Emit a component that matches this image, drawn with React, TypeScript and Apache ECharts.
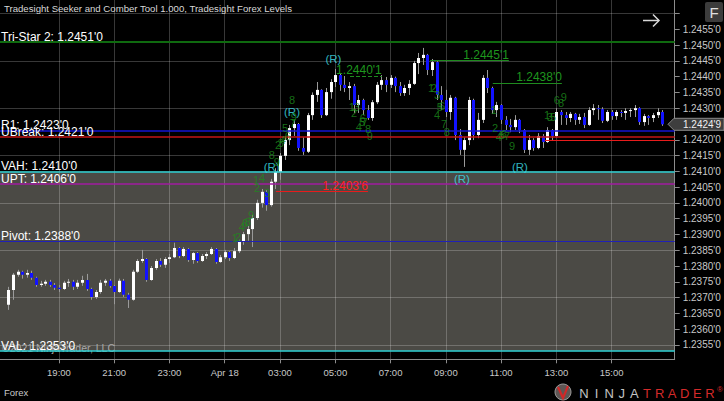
import React, { useEffect, useRef } from "react";
import * as echarts from "echarts";

// ---------- data ----------
const firstOpen = 1.23677;
const firstBarTime = "04-17 17:10";
const barMinutes = 10;

const closes = [
  1.23724, 1.23772, 1.23782, 1.23772, 1.23778, 1.23763, 1.2374, 1.23744, 1.2375, 1.2374,
  1.23731, 1.23727, 1.23747, 1.2375, 1.23734, 1.23747, 1.23756, 1.23727, 1.23702, 1.23718,
  1.23747, 1.23753, 1.23737, 1.23718, 1.23753, 1.23709, 1.23693, 1.23782, 1.23816, 1.23822,
  1.23756, 1.23794, 1.23816, 1.23804, 1.23822, 1.23828, 1.23857, 1.23832, 1.23854, 1.23819,
  1.23841, 1.23816, 1.23832, 1.23838, 1.23854, 1.23813, 1.23828, 1.23844, 1.23825, 1.23847,
  1.23876, 1.23901, 1.23917, 1.23952, 1.24, 1.24035, 1.23993, 1.24067, 1.24098, 1.24149,
  1.24199, 1.24237, 1.2425, 1.24174, 1.24162, 1.24278, 1.24342, 1.24358, 1.24278, 1.24351,
  1.24383, 1.24405, 1.24374, 1.24364, 1.2437, 1.2431, 1.24326, 1.24294, 1.24269, 1.24319,
  1.24374, 1.24389, 1.24374, 1.24396, 1.2437, 1.24348, 1.24364, 1.24377, 1.24443, 1.24459,
  1.24469, 1.24421, 1.24446, 1.24342, 1.24326, 1.24288, 1.24333, 1.24215, 1.24168, 1.24199,
  1.24326, 1.24215, 1.24263, 1.24396, 1.24364, 1.24294, 1.2431, 1.24263, 1.24247, 1.2424,
  1.24263, 1.24231, 1.24168, 1.24199, 1.24174, 1.24212, 1.24193, 1.24231, 1.24212, 1.24288,
  1.24278, 1.24269, 1.24282, 1.24263, 1.24272, 1.24247, 1.24294, 1.243, 1.24297, 1.2426,
  1.24288, 1.24275, 1.24288, 1.24285, 1.24291, 1.24294, 1.243, 1.24256, 1.24275, 1.24269,
  1.24278, 1.24288, 1.24249,
];
const highs = [
  1.23734, 1.23778, 1.23788, 1.23785, 1.23788, 1.23785, 1.23766, 1.23753, 1.23756, 1.23756,
  1.23746, 1.2374, 1.23753, 1.23759, 1.23756, 1.23756, 1.23769, 1.23775, 1.23731, 1.23724,
  1.23756, 1.23759, 1.23759, 1.2374, 1.2376, 1.23759, 1.23715, 1.23788, 1.23822, 1.23851,
  1.23825, 1.238, 1.23822, 1.23825, 1.23828, 1.23838, 1.23874, 1.2386, 1.2386, 1.23857,
  1.23844, 1.23844, 1.23838, 1.23844, 1.2386, 1.23857, 1.23835, 1.23851, 1.23847, 1.23857,
  1.23883, 1.23908, 1.23927, 1.23962, 1.2401, 1.24044, 1.2404, 1.24076, 1.2411, 1.24158,
  1.24208, 1.24247, 1.24263, 1.24253, 1.24208, 1.24285, 1.2435, 1.24383, 1.2436, 1.24364,
  1.24392, 1.24424, 1.24411, 1.24402, 1.24383, 1.24377, 1.24342, 1.2433, 1.2431, 1.24326,
  1.24383, 1.24405, 1.24399, 1.24405, 1.244, 1.24383, 1.24374, 1.24389, 1.2445, 1.24475,
  1.24491, 1.24472, 1.24456, 1.24449, 1.2437, 1.24358, 1.24342, 1.24336, 1.24234, 1.24208,
  1.24336, 1.2433, 1.24285, 1.24405, 1.24421, 1.24368, 1.2432, 1.24313, 1.24275, 1.24266,
  1.24278, 1.24266, 1.24234, 1.24215, 1.24205, 1.24221, 1.24218, 1.2424, 1.24234, 1.243,
  1.24294, 1.24288, 1.24288, 1.24285, 1.24282, 1.24285, 1.24303, 1.24313, 1.2431, 1.24303,
  1.24294, 1.24294, 1.24294, 1.24294, 1.243, 1.243, 1.2431, 1.24303, 1.24282, 1.24278,
  1.24285, 1.243, 1.24294,
];
const lows = [
  1.23661, 1.23693, 1.23766, 1.2376, 1.23763, 1.23756, 1.23734, 1.23734, 1.23737, 1.23734,
  1.23724, 1.23718, 1.23724, 1.23734, 1.23724, 1.23727, 1.23737, 1.23721, 1.23693, 1.23696,
  1.23712, 1.23737, 1.23731, 1.23679, 1.23715, 1.23702, 1.23667, 1.2369, 1.23778, 1.2381,
  1.2375, 1.23753, 1.23788, 1.23797, 1.23794, 1.2381, 1.23825, 1.23825, 1.23828, 1.23813,
  1.23807, 1.2381, 1.23813, 1.23822, 1.23835, 1.23807, 1.2381, 1.23822, 1.23816, 1.23822,
  1.23841, 1.23867, 1.2388, 1.2386, 1.23946, 1.23985, 1.23975, 1.23988, 1.24044, 1.24073,
  1.24136, 1.24183, 1.24212, 1.24165, 1.24152, 1.24158, 1.24263, 1.2432, 1.24269, 1.24275,
  1.2433, 1.24367, 1.24355, 1.24351, 1.24326, 1.24285, 1.24285, 1.24278, 1.24263, 1.2426,
  1.24313, 1.24358, 1.24351, 1.24364, 1.24351, 1.24339, 1.24339, 1.24342, 1.24374, 1.24408,
  1.24437, 1.24405, 1.24402, 1.24326, 1.24294, 1.24272, 1.24263, 1.24199, 1.24152, 1.24114,
  1.24183, 1.24199, 1.24205, 1.24253, 1.24348, 1.24282, 1.24272, 1.2425, 1.24231, 1.24224,
  1.24231, 1.24221, 1.24158, 1.24152, 1.24165, 1.2417, 1.24174, 1.2419, 1.24196, 1.24208,
  1.24247, 1.24247, 1.24256, 1.24247, 1.2425, 1.24237, 1.24244, 1.24278, 1.24263, 1.24253,
  1.24256, 1.24263, 1.24263, 1.24272, 1.24263, 1.24272, 1.24272, 1.24247, 1.24244, 1.24247,
  1.24256, 1.24269, 1.24244,
];

// axis ranges / ticks
const axisStartTime = "04-17 16:52";
const axisEndTime = "04-18 17:17";
const priceMin = 1.235044;
const priceMax = 1.246428;
const timeLabels = [
  "04-17 19:00", "04-17 21:00", "04-17 23:00", "04-18 01:00", "04-18 03:00", "04-18 05:00",
  "04-18 07:00", "04-18 09:00", "04-18 11:00", "04-18 13:00", "04-18 15:00",
];
const priceLabels = [
  1.2355, 1.236, 1.2365, 1.237, 1.2375, 1.238, 1.2385, 1.239, 1.2395, 1.24, 1.2405, 1.241,
  1.2415, 1.242, 1.243, 1.2435, 1.244, 1.2445, 1.245, 1.2455,
];
const priceTicks = [
  1.2355, 1.236, 1.2365, 1.237, 1.2375, 1.238, 1.2385, 1.239, 1.2395, 1.24, 1.2405, 1.241,
  1.2415, 1.242, 1.2425, 1.243, 1.2435, 1.244, 1.2445, 1.245, 1.2455, 1.246,
];
const gridPrices = [1.2355, 1.237, 1.2385, 1.24, 1.2415, 1.243, 1.2445, 1.246];

// levels
const levelNames = ["Tri-Star 2", "R1", "UBreak", "VAH", "UPT", "Pivot", "VAL"];
const levelValues = [1.2451, 1.2423, 1.2421, 1.241, 1.2406, 1.2388, 1.2353];
const levelColors = ["#0f6a0f", "#1414d2", "#c41414", "#2ccfd2", "#a01ca0", "#2020b8", "#2ccfd2"];
const levelWidths = [2, 1.5, 1.5, 1.5, 1.5, 1.2, 1.5];

// swing segments
const segValues = [1.24036, 1.24401, 1.24451, 1.2438, 1.242];
const segStarts = ["04-18 02:51", "04-18 05:32", "04-18 08:26", "04-18 10:42", "04-18 12:35"];
const segEnds = ["04-18 06:11", "04-18 06:41", "04-18 11:17", "04-18 13:12", "04-18 17:17"];
const segShowLabel = [true, true, true, true, false];
const segColors = ["#e81c1c", "#1e8a1e", "#1e8a1e", "#1e8a1e", "#e81c1c"];
const segDashed = [false, true, false, false, false];

// (R) markers
const rTimes = ["04-18 02:42", "04-18 03:26", "04-18 04:56", "04-18 09:35", "04-18 11:41"];
const rPrices = [1.24115, 1.24288, 1.24457, 1.24076, 1.24114];

// count digits
const countTexts = [
  "1", "2", "4", "6", "8", "9",
  "1", "4", "2", "3", "8", "9",
  "2", "3", "4", "5", "6", "7", "9", "8",
  "1", "3", "2", "6", "5", "7", "4", "8", "9",
  "1", "2", "3", "5", "6", "4", "7", "8",
  "1", "2", "4", "5", "6", "7", "9",
  "6", "8", "9", "1", "3", "5",
];
const countTimes = [
  "04-18 01:22", "04-18 01:29", "04-18 01:37", "04-18 01:44", "04-18 01:50", "04-18 01:57",
  "04-18 02:08", "04-18 02:21", "04-18 02:10", "04-18 02:32", "04-18 02:42", "04-18 02:53",
  "04-18 02:56", "04-18 03:02", "04-18 03:06", "04-18 03:11", "04-18 03:17", "04-18 03:28", "04-18 03:30", "04-18 03:26",
  "04-18 05:36", "04-18 05:47", "04-18 05:41", "04-18 06:00", "04-18 05:58", "04-18 06:04", "04-18 05:51", "04-18 06:11", "04-18 06:15",
  "04-18 08:28", "04-18 08:34", "04-18 08:41", "04-18 08:47", "04-18 08:52", "04-18 08:41", "04-18 08:56", "04-18 09:02",
  "04-18 10:44", "04-18 10:47", "04-18 10:55", "04-18 11:02", "04-18 11:06", "04-18 11:13", "04-18 11:24",
  "04-18 13:01", "04-18 13:10", "04-18 13:16", "04-18 12:40", "04-18 12:46", "04-18 12:53",
];
const countPrices = [
  1.23889, 1.23892, 1.23924, 1.23936, 1.23939, 1.23962,
  1.24073, 1.24079, 1.24047, 1.24031, 1.24152, 1.24131,
  1.24183, 1.2419, 1.24199, 1.24237, 1.24212, 1.24253, 1.24272, 1.24326,
  1.24304, 1.24304, 1.24285, 1.24269, 1.24256, 1.24256, 1.2424, 1.24234, 1.24212,
  1.24364, 1.24364, 1.24342, 1.24304, 1.24307, 1.24278, 1.2425, 1.24225,
  1.24294, 1.24237, 1.24209, 1.24215, 1.24218, 1.24212, 1.2418,
  1.24326, 1.24316, 1.24336, 1.24278, 1.24272, 1.24272,
];

// ---------- helpers ----------
const FONT = "'Liberation Sans', Arial, sans-serif";
const NARROW = "'Liberation Sans Narrow', 'Liberation Sans', Arial, sans-serif";
const R_COLOR = "#3ee0f0";
const COUNT_COLOR = "#1c8a1c";

function toMin(s: string): number {
  const [d, t] = s.split(" ");
  const day = d === "04-18" ? 1 : 0;
  const [h, m] = t.split(":").map(Number);
  return day * 1440 + h * 60 + m;
}
function fmtPrice(v: number): string {
  const s = v.toFixed(5);
  return s.slice(0, 6) + "'" + s.slice(6);
}
function fmtTime(v: number): string {
  const d = Math.floor(v / 1440);
  const m = Math.round(v - d * 1440);
  if (d === 1 && m < 120) return "Apr 18";
  const hh = Math.floor(m / 60);
  const mm = m % 60;
  return String(hh).padStart(2, "0") + ":" + String(mm).padStart(2, "0");
}

export default function App() {
  const ref = useRef<HTMLDivElement>(null);
  useEffect(() => {
    if (!ref.current) return;
    const chart = echarts.init(ref.current, null, { renderer: "svg" });
    const xMin = toMin(axisStartTime);
    const xMax = toMin(axisEndTime);
    const t0 = toMin(firstBarTime);
    const candles = closes.map((c, i) => [
      t0 + i * barMinutes,
      i === 0 ? firstOpen : closes[i - 1],
      c,
      lows[i],
      highs[i],
    ]);
    const gridColor = "rgba(255,255,255,0.22)";
    const axisColor = "#8c8c8c";

    const levelLines = levelNames.map((n, i) => [
      {
        coord: [xMin, levelValues[i]],
        lineStyle: { color: levelColors[i], width: levelWidths[i], type: "solid" },
        label: {
          show: true,
          position: "insideStartTop",
          formatter: n + ": " + fmtPrice(levelValues[i]),
          color: "#ffffff",
          fontSize: 12,
          fontFamily: FONT,
          distance: [1, -1],
        },
      },
      { coord: [xMax, levelValues[i]] },
    ]);
    const segLines = segValues.map((v, i) => [
      {
        coord: [toMin(segStarts[i]), v],
        lineStyle: { color: segColors[i], width: 1, type: segDashed[i] ? "dashed" : "solid" },
        label: {
          show: segShowLabel[i],
          position: "insideEndTop",
          formatter: fmtPrice(v),
          color: segColors[i] === "#e81c1c" ? "#ff2020" : "#1e961e",
          fontSize: 12,
          fontFamily: NARROW,
          distance: [0, 0],
        },
      },
      { coord: [Math.min(toMin(segEnds[i]), xMax), v] },
    ]);

    const option: any = {
      animation: false,
      backgroundColor: "#000000",
      grid: { left: 0, right: 49.3, top: 0, bottom: 41.7, containLabel: false },
      xAxis: {
        type: "value",
        min: xMin,
        max: xMax,
        axisLine: { show: true, onZero: false, lineStyle: { color: axisColor, width: 1 } },
        axisTick: { show: true, length: 4, customValues: timeLabels.map(toMin), lineStyle: { color: axisColor } },
        axisLabel: {
          customValues: timeLabels.map(toMin),
          formatter: fmtTime,
          color: "#c8c8c8",
          fontSize: 9.5,
          fontFamily: FONT,
          margin: 8,
        },
        splitLine: { show: true, lineStyle: { color: gridColor, width: 1 } },
      },
      yAxis: [
        {
          type: "value",
          position: "right",
          min: priceMin,
          max: priceMax,
          axisLine: { show: true, onZero: false, lineStyle: { color: axisColor, width: 1 } },
          axisTick: { show: true, length: 5, customValues: priceTicks, lineStyle: { color: axisColor } },
          axisLabel: {
            customValues: priceLabels,
            formatter: (v: number) => fmtPrice(v),
            color: "#c8c8c8",
            fontSize: 10,
            fontFamily: FONT,
            margin: 8,
          },
          splitLine: { show: false },
        },
        {
          type: "value",
          position: "right",
          min: priceMin,
          max: priceMax,
          axisLine: { show: false },
          axisTick: { show: false, customValues: gridPrices },
          axisLabel: { show: false },
          splitLine: { show: true, lineStyle: { color: gridColor, width: 1 } },
        },
      ],
      series: [
        {
          type: "line",
          data: [],
          silent: true,
          markArea: {
            z: -1,
            silent: true,
            itemStyle: { color: "#4b4a45" },
            data: [[{ coord: [xMin, levelValues[3]] }, { coord: [xMax, levelValues[6]] }]],
          },
        },
        {
          type: "custom",
          data: candles,
          encode: { x: 0, y: [1, 2, 3, 4] },
          silent: true,
          clip: true,
          z: 3,
          renderItem: (params: any, api: any) => {
            const x = api.value(0);
            const o = api.value(1);
            const c = api.value(2);
            const l = Math.min(api.value(3), o, c);
            const h = Math.max(api.value(4), o, c);
            const pO = api.coord([x, o]);
            const pC = api.coord([x, c]);
            const pH = api.coord([x, h]);
            const pL = api.coord([x, l]);
            const cx = Math.round(pO[0]);
            const top = Math.min(pO[1], pC[1]);
            const bot = Math.max(pO[1], pC[1]);
            return {
              type: "group",
              children: [
                {
                  type: "line",
                  shape: { x1: cx + 0.5, y1: pH[1], x2: cx + 0.5, y2: pL[1] },
                  style: { stroke: "#9a9a9a", lineWidth: 1 },
                },
                {
                  type: "rect",
                  shape: { x: cx - 1, y: top, width: 3, height: Math.max(bot - top, 1) },
                  style: { fill: c >= o ? "#ffffff" : "#1212ff" },
                },
              ],
            };
          },
        },
        {
          type: "line",
          data: [],
          silent: true,
          z: 5,
          markLine: {
            silent: true,
            symbol: ["none", "none"],
            data: [...levelLines, ...segLines],
          },
        },
        {
          type: "scatter",
          data: rTimes.map((t, i) => [toMin(t), rPrices[i]]),
          symbolSize: 0.1,
          itemStyle: { color: R_COLOR },
          silent: true,
          z: 6,
          label: {
            show: true,
            position: "inside",
            formatter: "(R)",
            color: R_COLOR,
            textBorderWidth: 0,
            fontSize: 11.5,
            fontFamily: FONT,
          },
        },
        {
          type: "scatter",
          data: countTimes.map((t, i) => [toMin(t), countPrices[i], countTexts[i]]),
          symbolSize: 0.1,
          itemStyle: { color: COUNT_COLOR },
          silent: true,
          z: 6,
          label: {
            show: true,
            position: "inside",
            formatter: (p: any) => p.data[2],
            color: COUNT_COLOR,
            textBorderWidth: 0,
            fontSize: 11,
            fontFamily: NARROW,
          },
        },
      ],
    };
    chart.setOption(option);

    const lastClose = closes[closes.length - 1];
    const py = chart.convertToPixel({ yAxisIndex: 0 }, lastClose) as number;
    const logoLetters = "NINJATRADER".split("");
    const graphics: any[] = [
      {
        type: "text",
        left: 4,
        top: 3,
        z: 20,
        style: {
          text: "Tradesight Seeker and Comber Tool 1.000, Tradesight Forex Levels",
          fill: "#d8d8d8",
          font: `9.6px ${FONT}`,
        },
      },
      {
        type: "text",
        x: 2,
        y: 347.5,
        z: 4,
        style: {
          text: "©2021 NinjaTrader, LLC",
          fill: "#a8a8a8",
          font: `10.5px ${FONT}`,
          verticalAlign: "middle",
        },
      },
      {
        type: "text",
        x: 4,
        y: 392,
        z: 20,
        style: { text: "Forex", fill: "#c8c8c8", font: `9.5px ${FONT}`, verticalAlign: "middle" },
      },
      {
        type: "rect",
        shape: { x: 705, y: 2, width: 18, height: 20, r: 2 },
        style: { fill: "#3c3c3c" },
        z: 20,
      },
      {
        type: "text",
        x: 714,
        y: 12.5,
        z: 21,
        style: {
          text: "F",
          fill: "#e0e0e0",
          font: `15px ${FONT}`,
          align: "center",
          verticalAlign: "middle",
        },
      },
      {
        type: "line",
        shape: { x1: 643, y1: 20.5, x2: 659, y2: 20.5 },
        style: { stroke: "#d8d8d8", lineWidth: 1.5 },
        z: 20,
      },
      {
        type: "polyline",
        shape: { points: [[653, 14.5], [659, 20.5], [653, 26.5]] },
        style: { stroke: "#d8d8d8", lineWidth: 1.5, fill: "none" },
        z: 20,
      },
      {
        type: "polygon",
        shape: {
          points: [
            [668, py],
            [674, py - 6],
            [724, py - 6],
            [724, py + 6],
            [674, py + 6],
          ],
        },
        style: { fill: "#3e3e3e", stroke: "#8a8a8a", lineWidth: 1 },
        z: 20,
      },
      {
        type: "text",
        x: 683,
        y: py,
        z: 21,
        style: {
          text: fmtPrice(lastClose),
          fill: "#f0f0f0",
          font: `10px ${FONT}`,
          verticalAlign: "middle",
        },
      },
      {
        type: "circle",
        shape: { cx: 563, cy: 392, r: 8 },
        style: { fill: "#5e5654", stroke: "#9a9a9a", lineWidth: 1 },
        z: 20,
      },
      {
        type: "polyline",
        shape: { points: [[558, 387], [563, 398], [568, 386]] },
        style: { stroke: "#d02828", lineWidth: 2.2, fill: "none" },
        z: 21,
      },
      ...logoLetters.map((ch, i) => ({
        type: "text",
        x: 584 + i * 12.6,
        y: 393.5,
        z: 20,
        style: {
          text: ch,
          fill: i < 5 ? "#c4c4c4" : "#d42a2a",
          font: `300 13px ${FONT}`,
          align: "center",
          verticalAlign: "middle",
        },
      })),
      {
        type: "text",
        x: 717,
        y: 389,
        z: 20,
        style: { text: "®", fill: "#d42a2a", font: `8px ${FONT}`, verticalAlign: "middle" },
      },
    ];
    chart.setOption({ graphic: graphics });

    return () => chart.dispose();
  }, []);
  return (
    <div
      ref={ref}
      style={{ position: "fixed", left: 0, top: 0, width: 724, height: 401, background: "#000" }}
    />
  );
}
